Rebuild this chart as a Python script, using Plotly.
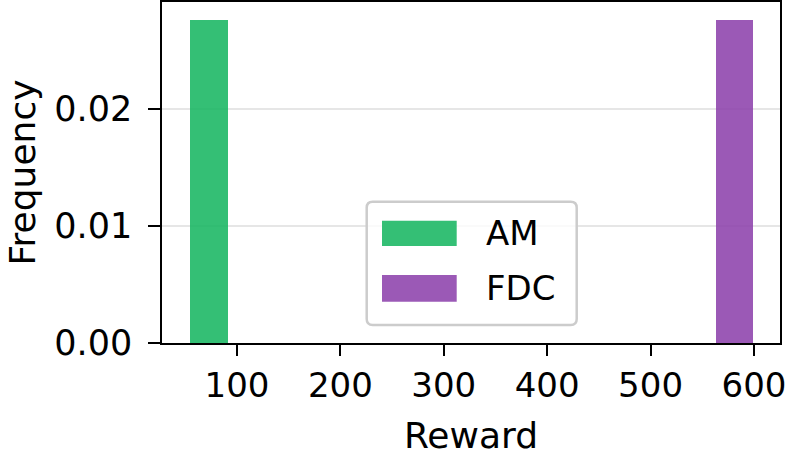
import plotly.graph_objects as go

# histogram bins (density, one bin per method)
methods = ["AM", "FDC"]
bin_left = [54.0, 563.2]
bin_right = [91.3, 599.3]
density = [0.02761, 0.02761]
colors = ["rgb(17,180,93)", "rgb(137,60,169)"]

y_ticks = [0.00, 0.01, 0.02]
x_ticks = [100, 200, 300, 400, 500, 600]

FONT = "DejaVu Sans"
W, H = 793, 459
L, R, T, B = 162, 13, 2, 116


def px(x):
    return (x - L) / (W - L - R)


def py(y):
    return (H - B - y) / (H - T - B)


fig = go.Figure()
for name, lo, hi, d, c in zip(methods, bin_left, bin_right, density, colors):
    fig.add_trace(
        go.Bar(
            x=[(lo + hi) / 2],
            y=[d],
            width=[hi - lo],
            name=name,
            marker=dict(color=c, line=dict(width=0)),
            opacity=0.85,
            showlegend=False,
        )
    )

# legend drawn by hand so the swatches match the wide matplotlib patches
x0, x1, y0, y1, r = 366.7, 576.7, 201.7, 325.0, 6
path = (
    f"M {px(x0 + r)},{py(y0)} L {px(x1 - r)},{py(y0)} "
    f"Q {px(x1)},{py(y0)} {px(x1)},{py(y0 + r)} L {px(x1)},{py(y1 - r)} "
    f"Q {px(x1)},{py(y1)} {px(x1 - r)},{py(y1)} L {px(x0 + r)},{py(y1)} "
    f"Q {px(x0)},{py(y1)} {px(x0)},{py(y1 - r)} L {px(x0)},{py(y0 + r)} "
    f"Q {px(x0)},{py(y0)} {px(x0 + r)},{py(y0)} Z"
)
shapes = [
    dict(type="path", path=path, xref="paper", yref="paper",
         fillcolor="rgba(255,255,255,0.8)", line=dict(color="#cccccc", width=2.5)),
]
annotations = []
rows = [(220.7, 246.0), (275.0, 301.7)]
for name, c, (ya, yb) in zip(methods, colors, rows):
    shapes.append(dict(type="rect", xref="paper", yref="paper",
                       x0=px(382), x1=px(456.7), y0=py(yb), y1=py(ya),
                       fillcolor=c, opacity=0.85, line=dict(width=0)))
    annotations.append(dict(text=name, xref="paper", yref="paper",
                            x=px(484), y=py((ya + yb) / 2), xanchor="left",
                            yanchor="middle", showarrow=False,
                            font=dict(family=FONT, size=34, color="black")))

fig.update_layout(
    width=W,
    height=H,
    margin=dict(l=L, r=R, t=T, b=B),
    plot_bgcolor="white",
    paper_bgcolor="white",
    font=dict(family=FONT, size=34, color="black"),
    bargap=0,
    shapes=shapes,
    annotations=annotations,
)
fig.update_xaxes(
    range=[27.4, 625.2],
    tickvals=x_ticks,
    tickfont=dict(size=34),
    ticks="outside",
    ticklen=11,
    tickwidth=1.5,
    tickcolor="black",
    showline=True,
    linecolor="black",
    linewidth=1.5,
    mirror=True,
    showgrid=False,
    zeroline=False,
    automargin=False,
    title=dict(text="Reward", standoff=19, font=dict(size=36)),
)
fig.update_yaxes(
    range=[0, 0.02915],
    tickvals=y_ticks,
    tickformat=".2f",
    tickfont=dict(size=35),
    ticklabelstandoff=9,
    ticks="outside",
    ticklen=12,
    tickwidth=1.5,
    tickcolor="black",
    showline=True,
    linecolor="black",
    linewidth=1.5,
    mirror=True,
    showgrid=True,
    gridcolor="#e6e6e6",
    gridwidth=1.5,
    zeroline=False,
    automargin=False,
    title=dict(text="Frequency", standoff=8, font=dict(size=36)),
)

# the page body has an 8px default margin; drop it so the figure sits at 0,0
fig.write_html(
    "out.html",
    config={"displayModeBar": False},
    post_script="document.body.style.margin = '0';",
)
